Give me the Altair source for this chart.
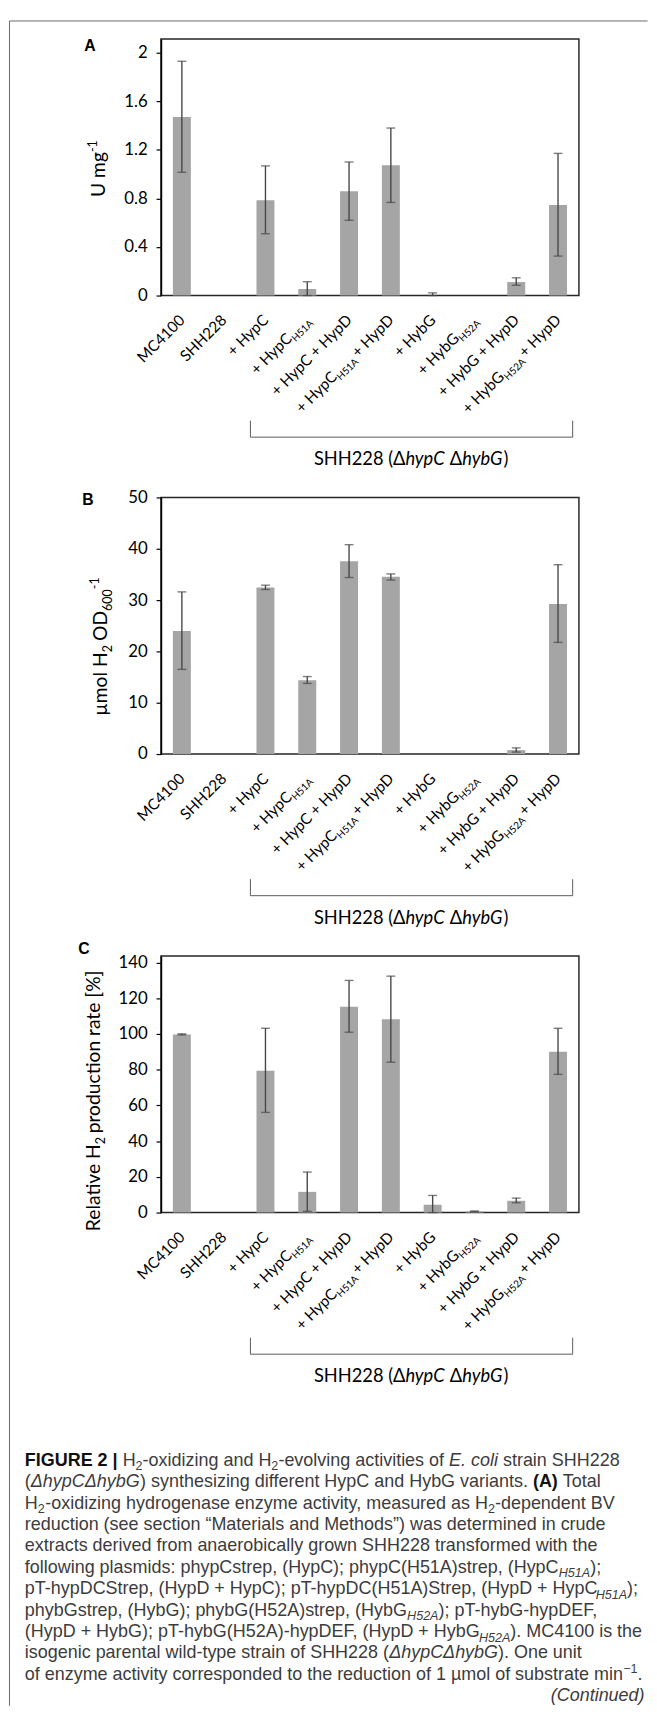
import altair as alt
import pandas as pd

# ---------------- data ----------------
categories = ["MC4100", "SHH228", "+ HypC", "+ HypC H51A", "+ HypC + HypD",
              "+ HypC H51A + HypD", "+ HybG", "+ HybG H52A", "+ HybG + HypD",
              "+ HybG H52A + HypD"]
label_parts = [
    [("MC4100", "n")],
    [("SHH228", "n")],
    [("+ HypC", "n")],
    [("+ HypC", "n"), ("H51A", "sub")],
    [("+ HypC + HypD", "n")],
    [("+ HypC", "n"), ("H51A", "sub"), (" + HypD", "n")],
    [("+ HybG", "n")],
    [("+ HybG", "n"), ("H52A", "sub")],
    [("+ HybG + HypD", "n")],
    [("+ HybG", "n"), ("H52A", "sub"), (" + HypD", "n")],
]

activity_A = [1.47, 0.0, 0.786, 0.054, 0.859, 1.073, 0.0, 0.0, 0.111, 0.745]
low_A = [1.015, None, 0.509, 0.0, 0.62, 0.767, 0.0, None, 0.084, 0.325]
high_A = [1.93, None, 1.068, 0.114, 1.10, 1.38, 0.022, None, 0.146, 1.171]

h2_B = [24.0, 0.0, 32.45, 14.4, 37.57, 34.56, 0.0, 0.0, 0.77, 29.25]
low_B = [16.5, None, 32.06, 13.76, 34.4, 33.9, None, None, 0.38, 21.76]
high_B = [31.6, None, 32.9, 15.1, 40.8, 35.1, None, None, 1.2, 36.9]

rel_C = [99.7, 0.0, 79.4, 11.6, 115.3, 108.2, 4.4, 0.7, 6.6, 90.1]
low_C = [99.5, None, 56.1, 0.7, 101.0, 84.2, 0.0, 0.5, 5.5, 77.4]
high_C = [100.1, None, 103.2, 22.7, 130.0, 132.4, 9.6, 0.9, 8.1, 103.2]

ticks_A = [0, 0.4, 0.8, 1.2, 1.6, 2.0]
ticks_B = [0, 10, 20, 30, 40, 50]
ticks_C = [0, 20, 40, 60, 80, 100, 120, 140]

title_A = [("U mg", "n"), ("-1", "sup")]
title_B = [("µmol H", "n"), ("2", "sub"), (" OD", "n"), ("600", "sub"), ("-1", "sup")]
title_C = [("Relative H", "n"), ("2", "sub"), (" production rate [%]", "n")]
group_label = [("SHH228 (Δ", "n"), ("hypC", "i"), (" Δ", "n"), ("hybG", "i"), (")", "n")]
bracket_span = [2.14, 9.85]       # in category units
group_label_pos = [6.0]

caption_lines = [
    [("FIGURE 2 | ", "b"), ("H", "n"), ("2", "sub"), ("-oxidizing and H", "n"), ("2", "sub"),
     ("-evolving activities of ", "n"), ("E. coli", "i"), (" strain SHH228", "n")],
    [("(", "n"), ("ΔhypCΔhybG", "i"), (") synthesizing different HypC and HybG variants. ", "n"),
     ("(A)", "b"), (" Total", "n")],
    [("H", "n"), ("2", "sub"), ("-oxidizing hydrogenase enzyme activity, measured as H", "n"),
     ("2", "sub"), ("-dependent BV", "n")],
    [("reduction (see section \u201cMaterials and Methods\u201d) was determined in crude", "n")],
    [("extracts derived from anaerobically grown SHH228 transformed with the", "n")],
    [("following plasmids: phypCstrep, (HypC); phypC(H51A)strep, (HypC", "n"), ("H51A", "isub"), (");", "n")],
    [("pT-hypDCStrep, (HypD + HypC); pT-hypDC(H51A)Strep, (HypD + HypC", "n"), ("H51A", "isub"), (");", "n")],
    [("phybGstrep, (HybG); phybG(H52A)strep, (HybG", "n"), ("H52A", "isub"), ("); pT-hybG-hypDEF,", "n")],
    [("(HypD + HybG); pT-hybG(H52A)-hypDEF, (HypD + HybG", "n"), ("H52A", "isub"), ("). MC4100 is the", "n")],
    [("isogenic parental wild-type strain of SHH228 (", "n"), ("ΔhypCΔhybG", "i"), ("). One unit", "n")],
    [("of enzyme activity corresponded to the reduction of 1 µmol of substrate min", "n"),
     ("\u22121", "sup"), (".", "n")],
]
continued_text = "(Continued)"

# ---------------- text metrics (approximate advance widths, em) ----------------
LATO = {' ': 0.193, '+': 0.58, '-': 0.32, '(': 0.30, ')': 0.30, '[': 0.30, ']': 0.30,
        '%': 0.80, '.': 0.21, 'A': 0.68, 'C': 0.69, 'D': 0.77, 'G': 0.74, 'H': 0.76,
        'M': 0.90, 'O': 0.81, 'R': 0.63, 'S': 0.53, 'U': 0.73, 'Δ': 0.70,
        'a': 0.50, 'b': 0.56, 'c': 0.46, 'd': 0.56, 'e': 0.52, 'g': 0.50, 'h': 0.56,
        'i': 0.24, 'l': 0.24, 'm': 0.84, 'n': 0.56, 'o': 0.56, 'p': 0.56, 'r': 0.36,
        't': 0.34, 'u': 0.56, 'v': 0.50, 'y': 0.50, 'µ': 0.56}
for d in "0123456789":
    LATO[d] = 0.58
LATO_IT = {k: v * 0.96 for k, v in LATO.items()}

_arial = {' ': 278, '!': 278, '%': 889, "'": 191, '(': 333, ')': 333, '+': 584, ',': 278,
          '-': 333, '.': 278, '/': 278, ':': 278, ';': 278, '|': 260, '\u201c': 333,
          '\u201d': 333, 'µ': 577, 'Δ': 668, '\u2212': 584,
          'A': 667, 'B': 667, 'C': 722, 'D': 722, 'E': 667, 'F': 611, 'G': 778, 'H': 722,
          'I': 278, 'J': 500, 'K': 667, 'L': 556, 'M': 833, 'N': 722, 'O': 778, 'P': 667,
          'Q': 778, 'R': 722, 'S': 667, 'T': 611, 'U': 722, 'V': 667, 'W': 944, 'X': 667,
          'Y': 667, 'Z': 611, 'a': 556, 'b': 556, 'c': 500, 'd': 556, 'e': 556, 'f': 278,
          'g': 556, 'h': 556, 'i': 222, 'j': 222, 'k': 500, 'l': 222, 'm': 833, 'n': 556,
          'o': 556, 'p': 556, 'q': 556, 'r': 333, 's': 500, 't': 278, 'u': 556, 'v': 500,
          'w': 722, 'x': 500, 'y': 500, 'z': 500}
for d in "0123456789":
    _arial[d] = 556
ARIAL = {k: v / 1000 for k, v in _arial.items()}
ARIAL_BOLD = dict(ARIAL)
ARIAL_BOLD.update({'|': 0.280, 'A': 0.722, 'F': 0.611, 'I': 0.278, 'G': 0.778, 'U': 0.722,
                   'R': 0.722, 'E': 0.667})
ARIAL_KERN = {"T-": -0.111, "F,": -0.111, "T,": -0.111, "T.": -0.111, "11": -0.074,
              "y.": -0.055, "y,": -0.055, "r.": -0.055, "r,": -0.055}

SMALL = {"sub", "isub", "sup"}


def text_width(t, tab, size, kern=None):
    w = sum(tab.get(ch, 0.55) for ch in t)
    if kern:
        w += sum(kern.get(t[j:j + 2], 0.0) for j in range(len(t) - 1))
    return w * size


def seg_plan(segs, fs, table, btable, itable, anchor, ratio, kern=None):
    widths = []
    for t, k in segs:
        size = fs * ratio if k in SMALL else fs
        tab = btable if k == "b" else (itable if k in ("i", "isub") else table)
        widths.append(text_width(t, tab, size, kern))
    total = sum(widths)
    pos = {"left": 0.0, "center": -total / 2, "right": -total}[anchor]
    plan = []
    n = len(segs)
    for i, (t, k) in enumerate(segs):
        size = fs * ratio if k in SMALL else fs
        sp = table.get(' ', 0.25) * size
        b0, b1 = pos, pos + widths[i]
        pos = b1
        if k != "n" or (anchor == "left" and i == 0):
            align, off = "left", b0
        elif i + 1 < n and segs[i + 1][1] != "n":
            align, off = "right", b1
        elif anchor == "right" and i == n - 1:
            align, off = "right", b1
        else:
            align, off = "left", b0
        # SVG drops spaces at the ends of a text: place the visible part instead
        if align == "left" and t.startswith(" "):
            off += sp
        if align == "right" and t.endswith(" "):
            off -= sp
        plan.append(dict(text=t.strip(" "), kind=k, align=align, off=off, size=size))
    return plan


def text_layers(segs, fs, table, anchor, ratio, x_enc, y_px, angle, font, color,
                extra_cols=None, base_dy=0.0, btable=None, itable=None, bold_color=None,
                kern=None):
    layers = []
    for p in seg_plan(segs, fs, table, btable or table, itable or table, anchor, ratio, kern):
        dy = base_dy
        if p["kind"] in ("sub", "isub"):
            dy += 0.26 * fs
        elif p["kind"] == "sup":
            dy -= 0.40 * fs
        mk = dict(align=p["align"], baseline="alphabetic", dx=round(p["off"], 2),
                  dy=round(dy, 2), font=font, fontSize=round(p["size"], 2), color=color)
        if angle:
            mk["angle"] = angle
        if p["kind"] in ("i", "isub"):
            mk["fontStyle"] = "italic"
        if p["kind"] == "b":
            mk["fontWeight"] = "bold"
            mk["color"] = bold_color or color
        cols = {"t": [p["text"]]}
        if extra_cols:
            cols.update(extra_cols)
        layers.append(alt.Chart(pd.DataFrame(cols)).mark_text(**mk).encode(
            x=x_enc, y=alt.value(y_px), text="t:N"))
    return layers


# ---------------- layout / style ----------------
W, H = 423.5, 260
SPACING = 204.6
FS_TICK, FS_XLAB, FS_TITLE, FS_GROUP, FS_CAP = 17, 15.5, 19.5, 18.5, 18.2
CHART_FONT = "Lato"
BAR = "#a5a5a5"
ERR = "#474747"

cat_scale = alt.Scale(domain=categories, paddingInner=0.57, paddingOuter=0.285)
idx_scale = alt.Scale(domain=[0, 10])
one = pd.DataFrame({"k": [0]})


def make_panel(vals, lo, hi, ymax, ticks, fmt, title_segs, title_x, title_cy,
               letter, letter_x, letter_y, extra=()):
    df = pd.DataFrame({"cat": categories, "v": vals, "lo": lo, "hi": hi})
    ys = alt.Scale(domain=[0, ymax], nice=False, zero=True)
    yaxis = alt.Axis(values=ticks, format=fmt, grid=False, title=None, tickSize=5,
                     tickColor="#000", tickWidth=1.2, domainColor="#000", domainWidth=1.5,
                     labelFont=CHART_FONT, labelFontSize=FS_TICK, labelColor="#000",
                     labelPadding=9)
    xenc = alt.X("cat:N", scale=cat_scale, axis=None)
    base = alt.Chart(df)
    bars = base.mark_bar(color=BAR).encode(
        x=xenc, y=alt.Y("v:Q", scale=ys, axis=yaxis))
    err = base.mark_rule(color=ERR, strokeWidth=1.4).encode(
        x=xenc, y=alt.Y("lo:Q", scale=ys, axis=yaxis), y2="hi:Q")
    cap_lo = base.mark_tick(color=ERR, thickness=1.4, size=9).encode(
        x=xenc, y=alt.Y("lo:Q", scale=ys, axis=yaxis))
    cap_hi = base.mark_tick(color=ERR, thickness=1.4, size=9).encode(
        x=xenc, y=alt.Y("hi:Q", scale=ys, axis=yaxis))
    xl = []
    for cat, parts in zip(categories, label_parts):
        xl += text_layers(parts, FS_XLAB, LATO, "right", 0.65,
                          alt.X("cat:N", scale=cat_scale, axis=None), H + 22, 315,
                          CHART_FONT, "#000", extra_cols={"cat": [cat]},
                          base_dy=0.36 * FS_XLAB)
    band_group = alt.layer(bars, err, cap_lo, cap_hi, *xl)

    br = pd.DataFrame({"a": [bracket_span[0]], "b": [bracket_span[1]]})
    bx_a = alt.X("a:Q", scale=idx_scale, axis=None)
    bx_b = alt.X("b:Q", scale=idx_scale, axis=None)
    bcol = "#5a5a5a"
    brk = [
        alt.Chart(br).mark_rule(color=bcol, strokeWidth=1).encode(
            x=bx_a, x2="b:Q", y=alt.value(H + 143.5)),
        alt.Chart(br).mark_rule(color=bcol, strokeWidth=1).encode(
            x=bx_a, y=alt.value(H + 126.8), y2=alt.value(H + 143.5)),
        alt.Chart(br).mark_rule(color=bcol, strokeWidth=1).encode(
            x=bx_b, y=alt.value(H + 126.8), y2=alt.value(H + 143.5)),
    ]
    glab = text_layers(group_label, FS_GROUP, LATO, "center", 1.0,
                       alt.X("p:Q", scale=idx_scale, axis=None), H + 172, 0,
                       CHART_FONT, "#000", extra_cols={"p": group_label_pos},
                       itable=LATO_IT)
    ttl = text_layers(title_segs, FS_TITLE, LATO, "center", 0.65,
                      alt.value(title_x), title_cy, 270, CHART_FONT, "#000")
    let = alt.Chart(one).mark_text(
        text=letter, font="Liberation Sans", fontWeight="bold", fontSize=16,
        align="center", baseline="alphabetic", color="#000").encode(
        x=alt.value(letter_x), y=alt.value(letter_y))
    other_group = alt.layer(*brk, *glab, *ttl, let, *extra)
    return alt.layer(band_group, other_group).resolve_scale(x="independent").properties(
        width=W, height=H)


# outer border (top and left edges of the figure frame)
border = [
    alt.Chart(one).mark_rule(color="#6a6a6a", strokeWidth=1).encode(
        x=alt.value(-153.5), y=alt.value(-18.2), y2=alt.value(1689.0)),
    alt.Chart(one).mark_rule(color="#6a6a6a", strokeWidth=1).encode(
        x=alt.value(-153.5), x2=alt.value(493), y=alt.value(-18.2)),
]

# caption (in panel C coordinates)
caption = []
CAP_X, CAP_Y0, CAP_DY = -138, 516.5, 21.7
for i, segs in enumerate(caption_lines):
    caption += text_layers(segs, FS_CAP, ARIAL, "left", 0.7, alt.value(CAP_X),
                           CAP_Y0 + CAP_DY * i, 0, "Liberation Sans", "#3c3c3c",
                           btable=ARIAL_BOLD, bold_color="#111111", kern=ARIAL_KERN)
caption.append(alt.Chart(one).mark_text(
    text=continued_text, font="Liberation Sans", fontStyle="italic", fontSize=FS_CAP,
    align="right", baseline="alphabetic", color="#3c3c3c").encode(
    x=alt.value(490), y=alt.value(CAP_Y0 + CAP_DY * 11)))

pA = make_panel(activity_A, low_A, high_A, 2.114, ticks_A, ".1~f", title_A, -57, 131,
                "A", -72, 12, extra=border)
pB = make_panel(h2_B, low_B, high_B, 50, ticks_B, "d", title_B, -55, 150,
                "B", -74, 7.5)
pC = make_panel(rel_C, low_C, high_C, 143.7, ticks_C, "d", title_C, -61.5, 148,
                "C", -78, -2, extra=caption)

chart = alt.vconcat(pA, pB, pC, spacing=SPACING, bounds="flush").properties(
    padding=0).configure_view(stroke="#262626", strokeWidth=1.5)

chart.save("out.html", embed_options={"renderer": "svg", "actions": False})
